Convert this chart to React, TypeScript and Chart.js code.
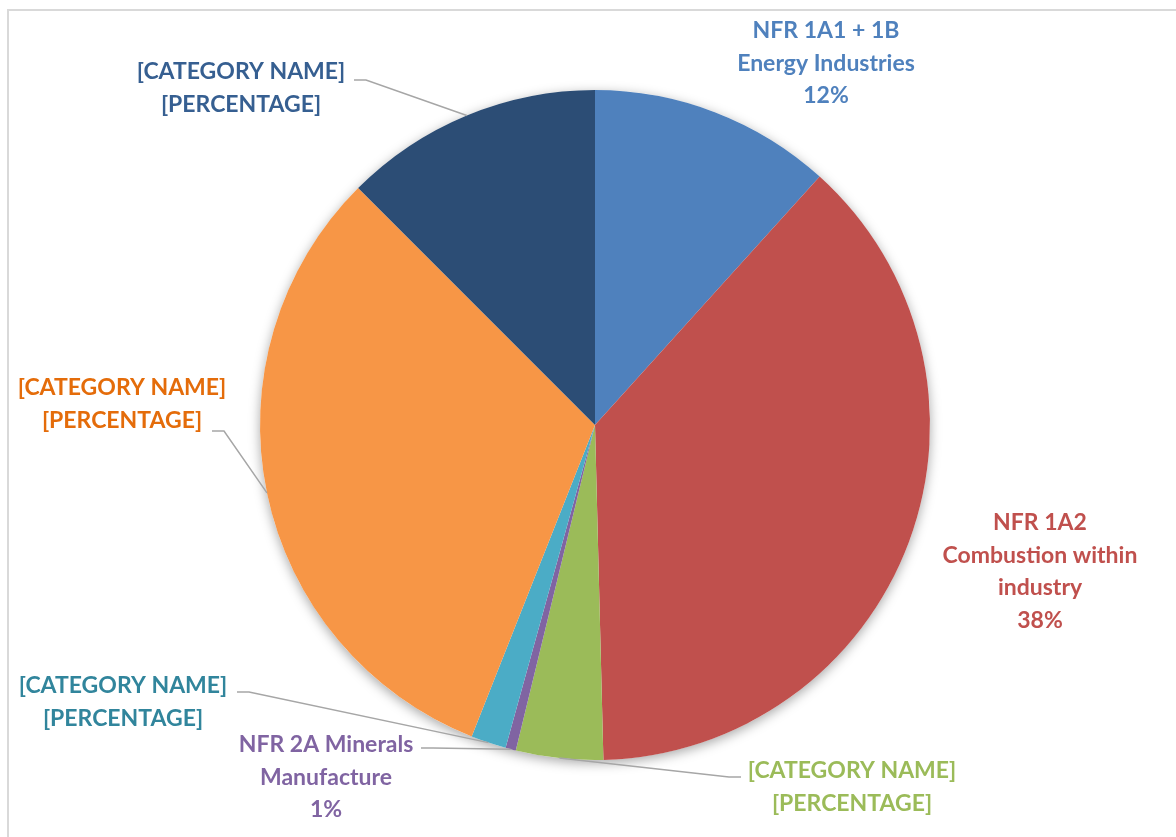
import React, { useEffect, useRef } from "react";
import { Chart, registerables } from "chart.js";

Chart.register(...registerables);

// ---- data ----
const categories = [
  "NFR 1A1 + 1B|Energy Industries",
  "NFR 1A2|Combustion within|industry",
  "[CATEGORY NAME]",
  "NFR 2A Minerals|Manufacture",
  "[CATEGORY NAME]",
  "[CATEGORY NAME]",
  "[CATEGORY NAME]",
];
const values = [11.7, 37.9, 4.2, 0.5, 1.7, 31.5, 12.5];
const percentLabels = ["12%", "38%", "[PERCENTAGE]", "1%", "[PERCENTAGE]", "[PERCENTAGE]", "[PERCENTAGE]"];
const sliceColors = ["#4F81BD", "#C0504D", "#9BBB59", "#8064A2", "#4BACC6", "#F79646", "#2C4D75"];
const labelColors = ["#4F81BD", "#C0504D", "#9BBB59", "#8064A2", "#31859C", "#E46C0A", "#365F91"];

// ---- label layout (positions only) ----
// cx, first line center y, leader anchor (ax, ay) and bend x; null = no leader
const labelLayout: { cx: number; cy: number; leader: null | [number, number, number] }[] = [
  { cx: 826, cy: 31, leader: null },
  { cx: 1040, cy: 523, leader: null },
  { cx: 852, cy: 771, leader: [741, 777, 729] },
  { cx: 326, cy: 745, leader: [421, 748, 433] },
  { cx: 123, cy: 686, leader: [237, 692, 249] },
  { cx: 122, cy: 388, leader: [212, 431, 224] },
  { cx: 241, cy: 72, leader: [354, 80, 366] },
];
const LINE_H = 32.5;
const FONT = "bold 23px Lato";

const labelsPlugin = {
  id: "outLabels",
  beforeDatasetsDraw(chart: any) {
    const meta = chart.getDatasetMeta(0);
    const a = meta.data[0];
    if (!a) return;
    const ctx = chart.ctx;
    ctx.save();
    ctx.shadowColor = "rgba(0,0,0,0.35)";
    ctx.shadowBlur = 12;
    ctx.shadowOffsetY = 3;
    ctx.fillStyle = "#ffffff";
    ctx.beginPath();
    ctx.arc(a.x, a.y, a.outerRadius, 0, Math.PI * 2);
    ctx.fill();
    ctx.restore();
  },
  afterDatasetsDraw(chart: any) {
    const ctx = chart.ctx;
    const meta = chart.getDatasetMeta(0);
    ctx.save();
    meta.data.forEach((arc: any, i: number) => {
      const lay = labelLayout[i];
      const lines = categories[i].split("|").concat([percentLabels[i]]);
      if (lay.leader) {
        const mid = (arc.startAngle + arc.endAngle) / 2;
        const ex = arc.x + Math.cos(mid) * arc.outerRadius;
        const ey = arc.y + Math.sin(mid) * arc.outerRadius;
        ctx.strokeStyle = "#A6A6A6";
        ctx.lineWidth = 1.5;
        ctx.beginPath();
        ctx.moveTo(lay.leader[0], lay.leader[1]);
        ctx.lineTo(lay.leader[2], lay.leader[1]);
        ctx.lineTo(ex, ey);
        ctx.stroke();
      }
      ctx.fillStyle = labelColors[i];
      ctx.font = FONT;
      ctx.textAlign = "center";
      ctx.textBaseline = "middle";
      lines.forEach((ln: string, k: number) => {
        ctx.fillText(ln, lay.cx, lay.cy + k * LINE_H);
      });
    });
    ctx.restore();
  },
};

export default function App() {
  const ref = useRef<HTMLCanvasElement | null>(null);
  useEffect(() => {
    document.body.style.margin = "0";
    const chart = new Chart(ref.current as HTMLCanvasElement, {
      type: "pie",
      data: {
        labels: categories.map((c) => c.replace(/\|/g, " ")),
        datasets: [
          {
            data: values,
            backgroundColor: sliceColors,
            borderWidth: 0,
          },
        ],
      },
      options: {
        animation: false,
        responsive: false,
        layout: { padding: { left: 260, right: 246, top: 90, bottom: 77 } },
        plugins: {
          legend: { display: false },
          tooltip: { enabled: false },
        },
      },
      plugins: [labelsPlugin],
    });
    return () => chart.destroy();
  }, []);
  return (
    <div style={{ position: "relative", width: 1176, height: 837, background: "#fff" }}>
      <div
        style={{
          position: "absolute",
          left: 7,
          top: 9,
          right: 0,
          bottom: 0,
          borderLeft: "2px solid #D9D9D9",
          borderTop: "2px solid #D9D9D9",
        }}
      />
      <canvas ref={ref} width={1176} height={837} style={{ position: "absolute", left: 0, top: 0 }} />
    </div>
  );
}
